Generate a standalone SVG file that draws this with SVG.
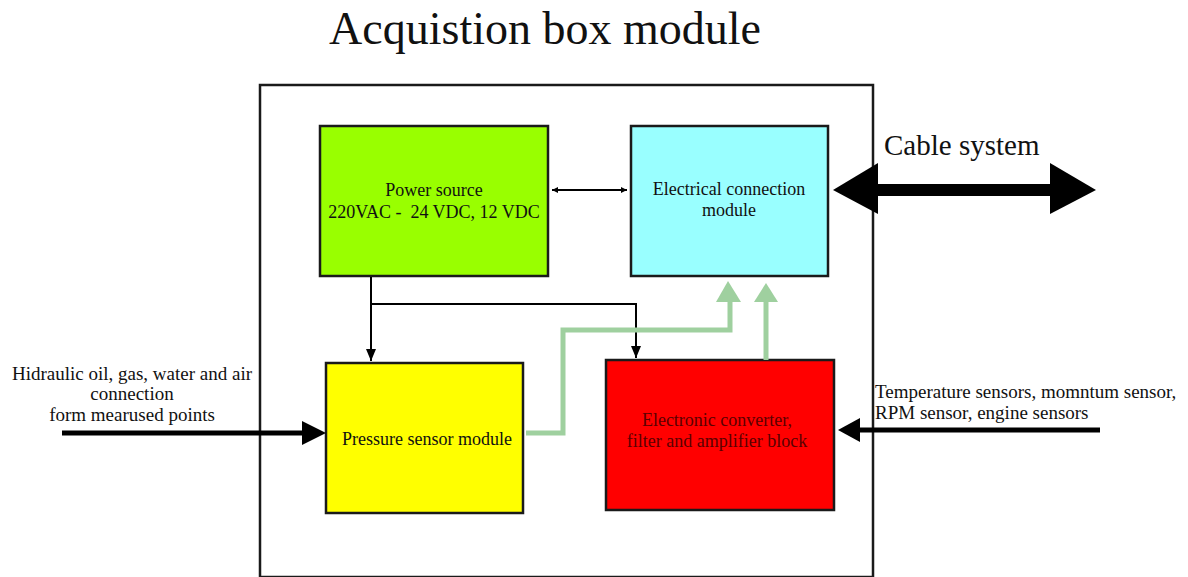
<svg xmlns="http://www.w3.org/2000/svg" width="1188" height="577" viewBox="0 0 1188 577">
  <style>
    text { font-family: "Liberation Serif", "Times New Roman", serif; fill: #111; }
    .box { stroke: #1a1a1a; stroke-width: 2.5; }
    .lbl { font-size: 18px; text-anchor: middle; }
    .side { font-size: 19px; }
    .wire { fill: none; stroke: #000; stroke-width: 2; }
    .sig { fill: none; stroke: #9fd09f; stroke-width: 5; }
  </style>
  <defs>
    <marker id="blk" viewBox="0 0 10 10" refX="10" refY="5" markerWidth="6" markerHeight="6" markerUnits="userSpaceOnUse" orient="auto-start-reverse">
      <path d="M0,0 L10,5 L0,10 z" fill="#000"/>
    </marker>
    <marker id="tri" viewBox="0 0 12 10" refX="12" refY="5" markerWidth="12" markerHeight="12" markerUnits="userSpaceOnUse" orient="auto">
      <path d="M0,0 L12,5 L0,10 z" fill="#000"/>
    </marker>
  </defs>

  <rect width="1188" height="577" fill="#fff"/>

  <text x="545" y="44" font-size="46" text-anchor="middle">Acquistion box module</text>

  <!-- enclosure -->
  <rect x="260" y="85" width="613" height="492" fill="none" stroke="#1a1a1a" stroke-width="2.5"/>

  <g id="power-source">
    <rect class="box" x="320" y="126" width="228" height="150" fill="#99ff00"/>
    <text class="lbl" x="434" y="196">Power source</text>
    <text class="lbl" x="434" y="218" xml:space="preserve">220VAC -  24 VDC, 12 VDC</text>
  </g>

  <g id="electrical-connection">
    <rect class="box" x="631" y="126" width="197" height="150" fill="#99ffff"/>
    <text class="lbl" x="729" y="195">Electrical connection</text>
    <text class="lbl" x="729" y="216">module</text>
  </g>

  <g id="pressure-sensor">
    <rect class="box" x="326" y="363" width="197" height="150" fill="#ffff00"/>
    <text class="lbl" x="427" y="445">Pressure sensor module</text>
  </g>

  <g id="electronic-converter">
    <rect class="box" x="606" y="360" width="228" height="150" fill="#ff0000"/>
    <text class="lbl" x="717" y="426" style="fill:#5a0000">Electronic converter,</text>
    <text class="lbl" x="717" y="447" style="fill:#5a0000">filter and amplifier block</text>
  </g>

  <g id="connectors">
    <!-- power to electrical connection -->
    <line class="wire" x1="552" y1="190" x2="627" y2="190" marker-start="url(#blk)" marker-end="url(#blk)"/>
    <!-- power feed -->
    <polyline class="wire" points="371,277 371,361" marker-end="url(#tri)"/>
    <polyline class="wire" points="371,304 636,304 636,358" marker-end="url(#tri)"/>

    <!-- signal paths -->
    <polyline class="sig" points="526,433 563,433 563,330 730,330 730,300"/>
    <polygon points="716,302 728,281 741,302" fill="#9fd09f"/>
    <line class="sig" x1="766" y1="360" x2="766" y2="300"/>
    <polygon points="754,302 766,283 778,302" fill="#9fd09f"/>

    <!-- cable system -->
    <rect x="876" y="184" width="176" height="12" fill="#000"/>
    <polygon points="833,190 878,163 878,214" fill="#000"/>
    <polygon points="1096,190 1050,163 1050,214" fill="#000"/>

    <!-- pressure inputs -->
    <line x1="62" y1="433" x2="305" y2="433" stroke="#000" stroke-width="5"/>
    <polygon points="326,433 302,421 302,445" fill="#000"/>

    <!-- sensor inputs -->
    <line x1="1100" y1="430" x2="858" y2="430" stroke="#000" stroke-width="5"/>
    <polygon points="838,430 860,418 860,442" fill="#000"/>
  </g>

  <text x="884" y="155" font-size="29">Cable system</text>

  <text class="side" x="132" y="380" text-anchor="middle">Hidraulic oil, gas, water and air</text>
  <text class="side" x="132" y="400" text-anchor="middle">connection</text>
  <text class="side" x="132" y="421" text-anchor="middle">form mearused points</text>

  <text class="side" x="875" y="398">Temperature sensors, momntum sensor,</text>
  <text class="side" x="875" y="419">RPM sensor, engine sensors</text>
</svg>
